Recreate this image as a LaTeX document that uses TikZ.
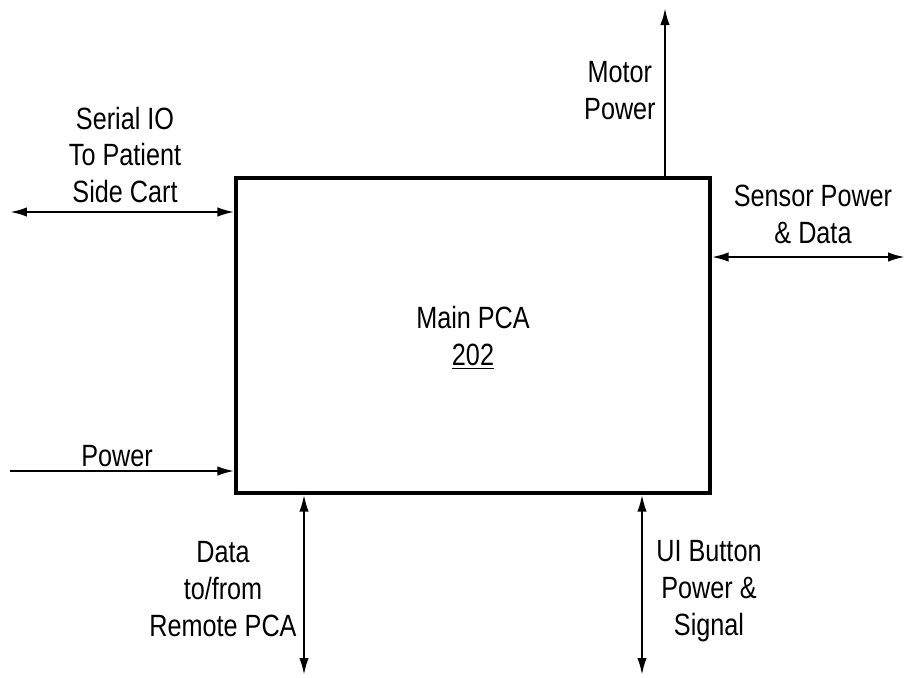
\documentclass[tikz,border=0pt]{standalone}
\usepackage{fontspec}
\setmainfont[FakeStretch=0.82]{Liberation Sans}
\usetikzlibrary{arrows.meta}

\begin{document}
\begin{tikzpicture}[
    x=0.02cm, y=-0.02cm,
    >={Latex[length=0.34cm,width=0.19cm]},
    every node/.style = {font=\fontsize{17.5}{21}\selectfont, align=center, inner sep=0pt},
    pcabox/.style     = {draw, line width=1.9pt, minimum width=9.48cm, minimum height=6.3cm},
    wire/.style       = {line width=1.3pt}
    ]
      \useasboundingbox (0,0) rectangle (906,677);

      % box ------------------------------------------------------
      \node[pcabox] (pca) at (473,335.5) {};
      \node (pcatxt) at (473,338) {Main PCA\\\underline{202}};

      % free ends ------------------------------------------------
      \coordinate (serialend) at (10,212);
      \coordinate (powerend)  at (10,471);
      \coordinate (motorend)  at (665,8);
      \coordinate (sensorend) at (905,257);
      \coordinate (dataend)   at (304,675);
      \coordinate (uiend)     at (642,675);

      % labels ---------------------------------------------------
      \node (serial) at (125,155)          {Serial IO\\To Patient\\Side Cart};
      \node (power)  at (117,456)          {Power};
      \node[anchor=east] (motor) at (656,91) {Motor\\Power};
      \node (sensor) at (813,214)          {Sensor Power\\\& Data};
      \node (data)   at (223,589)          {Data\\to/from\\Remote PCA};
      \node (ui)     at (709,591)          {UI Button\\Power \&\\Signal};

      % connectors -----------------------------------------------
      \draw[wire,<->] (serialend) -- (serialend -| pca.west);
      \draw[wire,->]  (powerend) -- (powerend -| pca.west);
      \draw[wire,->]  (motorend |- pca.north) -- (motorend);
      \draw[wire,<->] (sensorend -| pca.east) -- (sensorend);
      \draw[wire,<->] (dataend |- pca.south) -- (dataend);
      \draw[wire,<->] (uiend |- pca.south) -- (uiend);
\end{tikzpicture}
\end{document}
